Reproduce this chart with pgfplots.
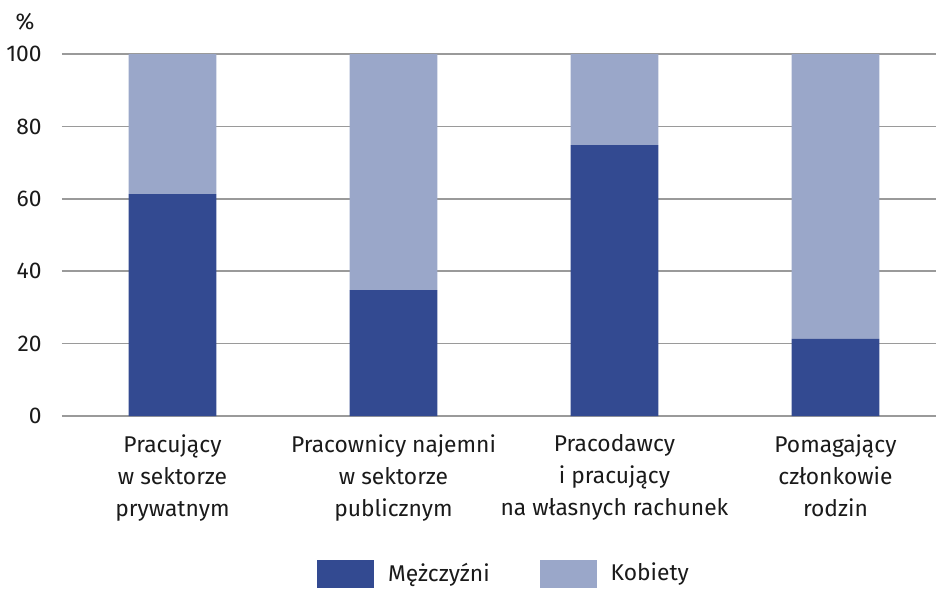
\documentclass[border=0pt]{standalone}
\usepackage{fontspec}
\setmainfont{Fira Sans}
\usepackage{pgfplots}
\pgfplotsset{compat=1.18}
\definecolor{dark}{HTML}{334A91}
\definecolor{light}{HTML}{9AA7C9}
\definecolor{gridc}{HTML}{9A9A9A}
\definecolor{txt}{HTML}{1A1A1A}
\begin{document}
\begin{tikzpicture}
\begin{axis}[
  name=ax,
  scale only axis,
  width=437pt, height=181pt,
  ybar stacked,
  bar width=43.8pt,
  xmin=-0.5, xmax=3.455,
  ymin=0, ymax=100,
  ytick={0,20,40,60,80,100},
  xtick={0,1,2,3},
  xticklabels={{Pracujący\\w sektorze\\prywatnym},{Pracownicy najemni\\w sektorze\\publicznym},{Pracodawcy\\i pracujący\\na własnych rachunek},{Pomagający\\członkowie\\rodzin}},
  axis line style={draw=none},
  major tick length=0pt,
  tick style={draw=none},
  ymajorgrids,
  grid style={gridc, line width=0.75pt},
  font=\fontsize{11.4}{16}\selectfont,
  /pgf/number format/assume math mode=true,
  yticklabel style={anchor=east, inner sep=0pt, xshift=-10pt, text=txt},
  xticklabel style={anchor=north, inner sep=0pt, yshift=-9pt, align=center, text=txt},
  legend style={draw=none, at={(0.5,0)}, anchor=center, xshift=2pt, yshift=-78.75pt,
    legend columns=2, font=\fontsize{11.4}{16}\selectfont, text=txt,
    nodes={inner sep=0pt},
    /tikz/every odd column/.append style={column sep=7pt},
    /tikz/every even column/.append style={column sep=25pt}},
  legend image code/.code={\fill[#1] (0pt,-7pt) rectangle (28.5pt,7pt);},
]
\addplot[fill=dark, draw=none] coordinates {(0,61.3) (1,34.8) (2,74.8) (3,21.3)};
\addplot[fill=light, draw=none] coordinates {(0,38.7) (1,65.2) (2,25.2) (3,78.7)};
\legend{Mężczyźni,Kobiety}
\end{axis}
\node[font=\fontsize{11.4}{16}\selectfont, text=txt] at ([xshift=-18.5pt,yshift=16pt]ax.north west) {\%};
\pgfresetboundingbox
\path[use as bounding box] ([xshift=-31pt,yshift=-87pt]ax.south west) rectangle ([yshift=27pt]ax.north east);
\end{tikzpicture}
\end{document}
